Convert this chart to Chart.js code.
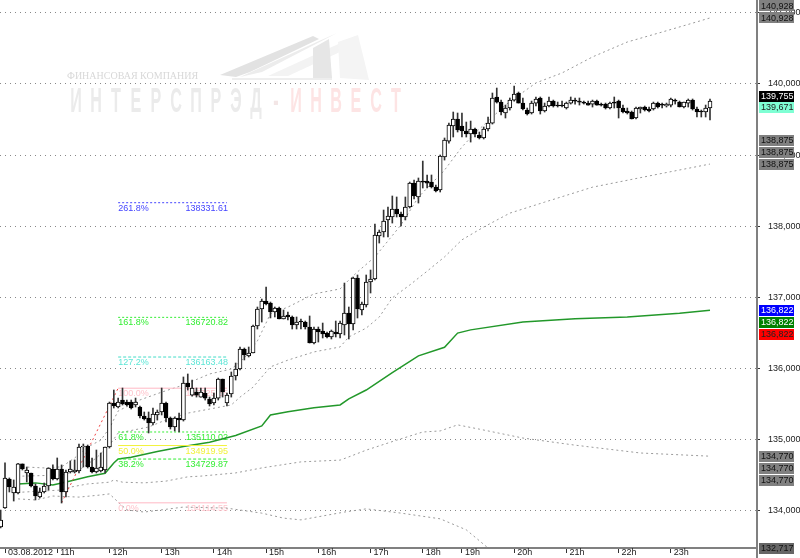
<!DOCTYPE html>
<html>
<head>
<meta charset="utf-8">
<style>html,body{margin:0;padding:0;background:#fff;overflow:hidden}canvas{display:block}</style>
<script src="https://cdn.jsdelivr.net/npm/chart.js@4/dist/chart.umd.min.js"></script>
</head>
<body>
<canvas id="chart" width="800" height="558"></canvas>
<script>
// 5 min candles
const opens = [
133775,134042,134450,134253,134253,134661,134534,134534,134351,134197,
134267,134351,134590,134450,134590,134267,134548,134548,134562,134899,
134913,134618,134548,134562,134576,134899,135517,135461,135559,135531,
135531,135489,135461,135335,135307,135236,135349,135391,135517,135307,
135180,135307,135278,135798,135629,135672,135601,135658,135573,135517,
135587,135854,135517,135644,135897,135995,136276,136178,136220,136599,
136838,136950,136922,136796,136852,136698,136754,136726,136613,136669,
136655,136585,136360,136557,136529,136501,136445,136515,136487,136613,
136782,136627,137274,136824,136894,137217,137260,137864,137920,138089,
138131,138243,138173,138131,138271,138608,138412,138636,138636,138622,
138552,138510,138974,139198,139409,139508,139409,139339,139297,139367,
139283,139241,139367,139451,139817,139746,139592,139662,139774,139873,
139732,139634,139592,139732,139803,139620,139690,139760,139704,139704,
139662,139732,139774,139760,139746,139732,139718,139760,139718,139718,
139662,139746,139760,139662,139620,139606,139522,139648,139676,139648,
139648,139732,139718,139690,139704,139774,139746,139676,139732,139774,
139648,139620,139606,139662];
const closes = [
133873,134464,134337,134337,134661,134590,134576,134351,134211,134267,
134351,134604,134450,134590,134267,134548,134590,134576,134899,134913,
134618,134548,134604,134618,134899,135517,135475,135531,135503,135489,
135447,135531,135335,135292,135236,135363,135391,135517,135307,135180,
135307,135278,135798,135742,135728,135629,135672,135587,135503,135587,
135854,135672,135629,135897,135995,136276,136192,136220,136599,136838,
136950,136908,136796,136852,136698,136740,136726,136613,136655,136655,
136585,136360,136557,136515,136487,136445,136529,136487,136641,136782,
136627,137274,136838,136908,137217,137260,137878,137920,138074,138145,
138243,138173,138131,138271,138608,138426,138636,138622,138608,138552,
138496,138988,139212,139423,139508,139353,139339,139297,139367,139297,
139241,139367,139451,139803,139746,139606,139662,139774,139859,139732,
139648,139578,139732,139789,139620,139690,139760,139690,139690,139690,
139732,139774,139760,139746,139732,139704,139760,139704,139704,139662,
139732,139732,139662,139606,139592,139508,139662,139676,139634,139620,
139732,139676,139704,139718,139789,139760,139676,139746,139774,139648,
139606,139606,139662,139760];
const highs = [
134014,134675,134464,134436,134668,134661,134618,134534,134379,134323,
134393,134604,134647,134745,134647,134576,134703,134717,134941,134941,
134927,134745,134857,134815,134899,135531,135700,135587,135728,135559,
135559,135587,135475,135391,135391,135447,135419,135728,135531,135321,
135321,135377,135883,135925,135840,135728,135728,135728,135601,135658,
135868,135854,135658,135953,136079,136304,136290,136304,136613,136866,
136978,137147,136936,136866,136866,136824,136796,136740,136726,136698,
136669,136740,136585,136585,136641,136515,136543,136669,136669,137203,
136866,137288,137316,136936,137316,137386,138032,137948,138229,138271,
138426,138412,138201,138412,138622,138650,138679,138917,138721,138721,
138580,139002,139241,139451,139606,139592,139592,139465,139479,139381,
139325,139395,139536,139873,139943,139774,139704,139803,139971,139887,
139803,139662,139760,139817,139817,139732,139817,139774,139746,139760,
139746,139817,139803,139803,139760,139760,139774,139774,139732,139732,
139746,139817,139774,139704,139662,139620,139676,139676,139690,139676,
139746,139746,139732,139732,139803,139789,139760,139746,139789,139789,
139676,139634,139704,139789];
const lows = [
133761,134035,134267,134140,134240,134576,134408,134337,134155,134183,
134253,134295,134436,134436,134112,134197,134534,134534,134534,134618,
134604,134534,134534,134548,134534,134885,135447,135447,135489,135475,
135433,135461,135307,135278,135096,135208,135278,135349,135250,135152,
135124,135110,135264,135700,135615,135601,135601,135559,135475,135489,
135559,135601,135475,135601,135840,135981,136122,136164,136220,136557,
136655,136894,136712,136726,136698,136698,136684,136557,136557,136557,
136557,136360,136346,136374,136431,136431,136417,136445,136431,136473,
136417,136543,136712,136754,136866,137063,137246,137765,137850,137850,
138046,138131,138004,138089,138257,138384,138327,138538,138538,138538,
138482,138482,138931,139170,139255,139325,139255,139255,139184,139255,
139227,139227,139339,139437,139732,139564,139522,139634,139760,139732,
139634,139564,139578,139690,139578,139606,139676,139676,139676,139676,
139648,139718,139718,139704,139718,139704,139676,139704,139690,139648,
139648,139662,139522,139592,139578,139508,139508,139592,139620,139606,
139634,139662,139662,139676,139676,139718,139676,139662,139676,139634,
139536,139536,139536,139494];

// moving average and bands, sampled at the bars where they bend
const midBars = [4,8,12,16,20,24,26,27,30,36,42,48,54,60,62,66,72,78,80,84,90,96,102,105,108,120,132,144,156,163];
const midValues = [134380,134395,134365,134420,134480,134530,134675,134730,134755,134835,134905,134965,135060,135195,135350,135395,135450,135490,135575,135700,135945,136180,136300,136500,136545,136655,136700,136725,136780,136822];
const upper2Bars = [5,10,14,17,20,23,25,27,32,37,42,48,53,56,59,62,66,72,78,80,82,86,92,96,102,106,109,116,123,129,136,144,152,159,163];
const upper2Values = [134620,134605,134620,134745,134900,134995,135165,135405,135560,135670,135770,135925,135995,136150,136390,136770,136865,137050,137120,137245,137360,137570,138020,138410,138790,139115,139310,139705,140015,140155,140380,140590,140730,140855,140928];
const upper1Bars = [5,14,18,22,25,27,34,38,43,53,55,58,62,66,72,78,80,84,87,90,94,98,102,106,111,117,125,136,150,163];
const upper1Values = [134490,134505,134575,134745,134925,135095,135180,135280,135375,135490,135600,135740,136025,136120,136235,136305,136445,136570,136725,136995,137175,137370,137570,137810,137990,138185,138340,138550,138720,138875];
const lower1Bars = [5,14,16,20,25,26,28,33,38,43,46,54,60,69,78,80,84,91,97,101,105,110,120,132,147,163];
const lower1Values = [134265,134295,134335,134380,134405,134435,134405,134395,134420,134480,134490,134535,134605,134690,134715,134760,134855,134995,135110,135125,135210,135150,135025,134925,134815,134770];
const lower2Bars = [4,8,12,18,23,25,27,29,33,42,52,60,65,69,79,84,92,101,107,112,163];
const lower2Values = [134170,134155,134210,134195,134225,134240,134125,134015,133985,134055,134040,133970,133900,133875,133985,134030,133970,133890,133735,133480,132717];

// fibonacci levels
const fibPercents = ['261.8%','161.8%','127.2%','100.0%','61.8%','50.0%','38.2%','0.0%'];
const fibValues = [138331.61,136720.82,136163.48,135725.35,135110.02,134919.95,134729.87,134114.55];
const fibStartBar = 27;
const fibEndBar = 52;
const fibTrendBars = [14,27];
const fibTrendValues = [134114.55,135725.35];

const hourBars = [1,13,25,37,49,61,73,85,97,106,118,130,142,154];
const hourLabels = ['03.08.2012','11h','12h','13h','14h','15h','16h','17h','18h','19h','20h','21h','22h','23h'];
const yTicks = [134000,135000,136000,137000,138000,139000,140000,141000];

const FONT = '9px "Liberation Sans", Arial, sans-serif';
const fmt = v => v.toLocaleString('en-US');
const noPad = s => { s.paddingLeft = 0; s.paddingRight = 0; s.paddingTop = 0; s.paddingBottom = 0; };
const fibStyles = [
  {color:'#4444ff', dash:[2,2], text:'#4444ff'},
  {color:'#33ee33', dash:[2,2], text:'#33ee33'},
  {color:'#44dcc8', dash:[3,2], text:'#5ce6d6'},
  {color:'#ffb8c4', dash:[], text:'#ffc4cc'},
  {color:'#33ee33', dash:[2,2], text:'#33ee33'},
  {color:'#f2f23c', dash:[], text:'#f2f23c'},
  {color:'#33ee33', dash:[3,2], text:'#33ee33'},
  {color:'#ffb8c4', dash:[], text:'#ffc4cc'}
];

// right hand price tags, shift is how far the terminal stacked them away from the price
const badges = [
  {v:140928, shift:-12, bg:'#808080', fg:'#111'},
  {v:140928, shift:0, bg:'#808080', fg:'#111'},
  {v:139755, shift:-5, bg:'#000000', fg:'#fff'},
  {v:139671, shift:0, bg:'#7fffd4', fg:'#222'},
  {v:138875, shift:-24, bg:'#808080', fg:'#111'},
  {v:138875, shift:-12, bg:'#808080', fg:'#111'},
  {v:138875, shift:0, bg:'#808080', fg:'#111'},
  {v:136822, shift:0, bg:'#0000ff', fg:'#fff'},
  {v:136822, shift:12, bg:'#008000', fg:'#fff'},
  {v:136822, shift:24, bg:'#ff0000', fg:'#222'},
  {v:134770, shift:0, bg:'#808080', fg:'#111'},
  {v:134770, shift:12, bg:'#808080', fg:'#111'},
  {v:134770, shift:24, bg:'#808080', fg:'#111'},
  {v:132717, shift:0, bg:'#666666', fg:'#111'}
];

const points = (bars, values) => bars.map((b, i) => ({x:b, y:values[i]}));
const bandDataset = (bars, values) => ({
  type:'line', data:points(bars, values), borderColor:'#9a9a9a', borderWidth:1,
  borderDash:[2,3], pointRadius:0, tension:0, order:5
});

const fibDatasets = fibValues.map((v, i) => ({
  type:'line', data:[{x:fibStartBar,y:v},{x:fibEndBar,y:v}],
  borderColor:fibStyles[i].color, borderDash:fibStyles[i].dash, borderWidth:1, pointRadius:0, order:3
}));

const watermark = {
  id:'watermark',
  beforeDatasetsDraw(chart) {
    const ctx = chart.ctx;
    ctx.save();
    const polys = [
      ['#e2e2e2',[[220,75],[313,36],[319,39],[250,72],[236,77]]],
      ['#ececec',[[240,77],[319,41],[337,33],[262,72]]],
      ['#f3f3f3',[[268,76],[356,36],[340,52],[288,76]]],
      ['#e6e6e6',[[313,48],[329,39],[332,78],[313,78]]],
      ['#f4f4f4',[[338,42],[358,35],[369,80],[340,78]]],
      ['#eeeeee',[[232,78],[332,78],[332,80],[232,80]]]
    ];
    polys.forEach(([c, pts]) => {
      ctx.fillStyle = c;
      ctx.beginPath();
      pts.forEach((p, i) => i ? ctx.lineTo(p[0], p[1]) : ctx.moveTo(p[0], p[1]));
      ctx.closePath();
      ctx.fill();
    });
    ctx.fillStyle = '#d8d8d8';
    ctx.font = '10px "Liberation Serif", serif';
    ctx.textAlign = 'left';
    ctx.textBaseline = 'alphabetic';
    ctx.fillText('ФИНАНСОВАЯ КОМПАНИЯ', 67, 79);
    const word = 'ИНТЕРСПРЭД-ИНВЕСТ';
    ctx.font = 'bold 26px "Liberation Sans", sans-serif';
    ctx.textAlign = 'center';
    for (let i = 0; i < word.length; i++) {
      ctx.save();
      ctx.fillStyle = i < 10 ? '#ebebeb' : (i === 10 ? '#f3e6e6' : '#fde4e4');
      ctx.translate(76 + i * 20, 112);
      ctx.scale(0.62, 1.38);
      ctx.fillText(word[i], 0, 0);
      ctx.restore();
    }
    // fib labels sit under the candles
    const y = chart.scales.y, x = chart.scales.x;
    ctx.font = FONT;
    ctx.textBaseline = 'middle';
    fibValues.forEach((v, i) => {
      const py = y.getPixelForValue(v) + 5.5;
      ctx.fillStyle = fibStyles[i].text;
      ctx.textAlign = 'left';
      ctx.fillText(fibPercents[i], x.getPixelForValue(fibStartBar), py);
      ctx.textAlign = 'right';
      ctx.fillText(v.toFixed(2), x.getPixelForValue(fibEndBar) + 1, py);
    });
    ctx.restore();
  }
};

const priceTags = {
  id:'priceTags',
  afterDraw(chart) {
    const ctx = chart.ctx, y = chart.scales.y, a = chart.chartArea;
    ctx.save();
    ctx.strokeStyle = '#808080';
    ctx.lineWidth = 2;
    ctx.beginPath();
    ctx.moveTo(a.right, a.bottom);
    ctx.lineTo(a.right, chart.height);
    ctx.stroke();
    ctx.font = FONT;
    ctx.textAlign = 'left';
    ctx.textBaseline = 'middle';
    badges.forEach(b => {
      const py = Math.min(y.getPixelForValue(b.v) + b.shift, a.bottom);
      ctx.fillStyle = b.bg;
      ctx.fillRect(759, Math.round(py - 5.5), 35, 11);
      ctx.fillStyle = b.fg;
      ctx.fillText(fmt(b.v), 761, Math.round(py) + 0.5);
    });
    ctx.restore();
  }
};

new Chart(document.getElementById('chart'), {
  type:'bar',
  data:{
    datasets:[
      {
        data:opens.map((o, i) => ({x:i, y:[o, closes[i]]})),
        grouped:false, barThickness:4, borderSkipped:false, borderWidth:1, borderColor:'#000',
        backgroundColor:opens.map((o, i) => closes[i] >= o ? '#fff' : '#000'), order:1
      },
      {
        data:lows.map((l, i) => ({x:i, y:[l, highs[i]]})),
        grouped:false, barThickness:1, backgroundColor:'#333', order:2
      },
      ...fibDatasets,
      {
        type:'line', data:points(fibTrendBars, fibTrendValues), borderColor:'#f04040',
        borderDash:[2,3], borderWidth:1, pointRadius:0, order:3
      },
      {
        type:'line', data:points(midBars, midValues), borderColor:'#22982a',
        borderWidth:1.5, pointRadius:0, tension:0, order:4
      },
      bandDataset(upper2Bars, upper2Values),
      bandDataset(upper1Bars, upper1Values),
      bandDataset(lower1Bars, lower1Values),
      bandDataset(lower2Bars, lower2Values)
    ]
  },
  plugins:[watermark, priceTags],
  options:{
    responsive:false, animation:false, maintainAspectRatio:false,
    layout:{padding:0},
    plugins:{legend:{display:false}, tooltip:{enabled:false}},
    scales:{
      x:{
        type:'linear', min:-0.15, max:173.8, offset:false,
        afterFit(s) { s.height = 10; noPad(s); },
        afterBuildTicks(s) { s.ticks = hourBars.map(v => ({value:v})); },
        grid:{drawOnChartArea:false, drawTicks:true, tickLength:5, tickColor:'#333', offset:false},
        border:{color:'#808080', width:2},
        ticks:{
          autoSkip:false, maxRotation:0, align:'start', labelOffset:3, padding:-6,
          color:'#222', font:{family:'"Liberation Sans", Arial, sans-serif', size:9},
          callback:v => hourLabels[hourBars.indexOf(v)]
        }
      },
      y:{
        position:'right', min:133480, max:141180,
        afterFit(s) { s.width = 43; noPad(s); },
        afterBuildTicks(s) { s.ticks = yTicks.map(v => ({value:v})); },
        grid:{color:'#888', tickColor:'#333', tickLength:3, lineWidth:1},
        border:{color:'#808080', width:2, dash:[1,4]},
        ticks:{
          padding:8, color:'#222', font:{family:'"Liberation Sans", Arial, sans-serif', size:9},
          callback:v => fmt(v)
        }
      }
    }
  }
});
</script>
</body>
</html>
